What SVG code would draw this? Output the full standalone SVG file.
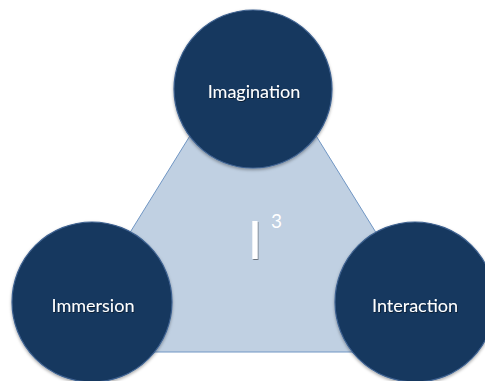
<svg xmlns="http://www.w3.org/2000/svg" width="485" height="381" viewBox="0 0 485 381">
<style>
.node circle{fill:#17375e;stroke:#3d6190;stroke-width:1.2;filter:url(#sh)}
.lbl{font-family:Lato,"Open Sans","DejaVu Sans",sans-serif;font-size:18px;fill:#ffffff;text-anchor:middle;filter:url(#tsh)}
.tri{fill:#c0d0e2;stroke:#7096c4;stroke-width:1}
</style>
<defs>
<filter id="sh" x="-20%" y="-20%" width="140%" height="140%">
<feDropShadow dx="0" dy="1.5" stdDeviation="1.5" flood-color="#000" flood-opacity="0.35"/>
</filter>
<filter id="tsh" x="-20%" y="-40%" width="140%" height="180%">
<feDropShadow dx="0.8" dy="1" stdDeviation="0.6" flood-color="#000" flood-opacity="0.45"/>
</filter>
</defs>
<rect width="485" height="381" fill="#ffffff"/>
<g id="connectors">
<polygon class="tri" points="253,34 56,352 450,352"/>
</g>
<g id="center-label">
<text x="255" y="259" font-family="Lato,'Open Sans','DejaVu Sans',sans-serif" font-size="53" fill="#ffffff" text-anchor="middle" filter="url(#tsh)">I</text>
<text x="276.5" y="228" font-family="Lato,'Open Sans','DejaVu Sans',sans-serif" font-size="19" fill="#ffffff" text-anchor="middle">3</text>
</g>
<g id="imagination" class="node">
<circle cx="253" cy="89" r="79"/>
<text class="lbl" x="254" y="98">Imagination</text>
</g>
<g id="immersion" class="node">
<circle cx="92" cy="302" r="80"/>
<text class="lbl" x="93" y="312">Immersion</text>
</g>
<g id="interaction" class="node">
<circle cx="415" cy="302" r="80"/>
<text class="lbl" x="415" y="312">Interaction</text>
</g>
</svg>
